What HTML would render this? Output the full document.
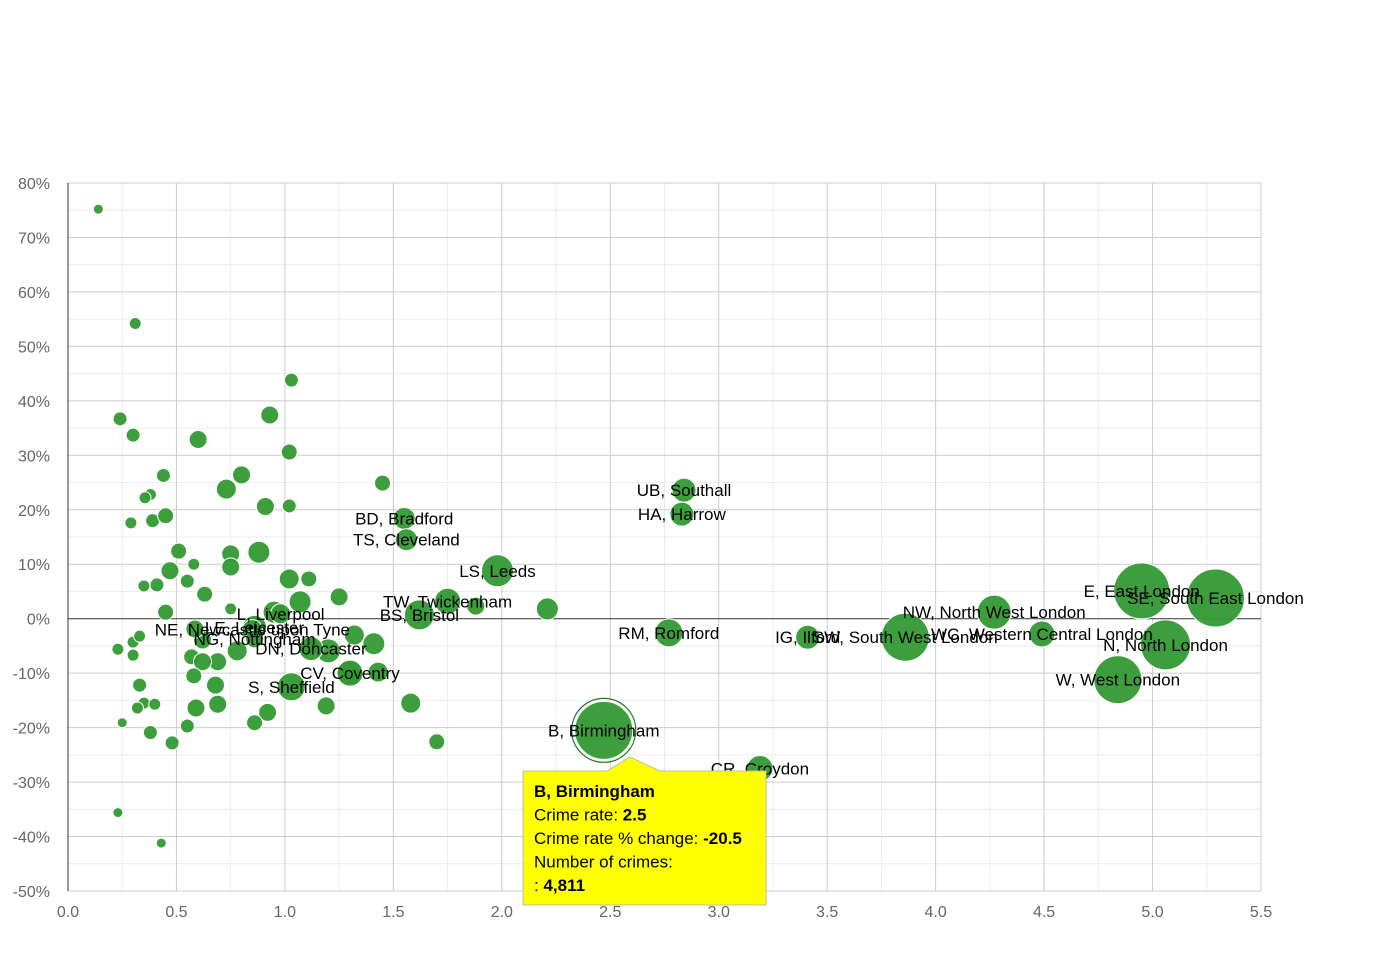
<!DOCTYPE html>
<html><head><meta charset="utf-8">
<style>
html,body{margin:0;padding:0;background:#fff;}
svg{display:block;font-family:"Liberation Sans",Arial,sans-serif;}
</style></head>
<body>
<svg id="chart" width="1390" height="980" viewBox="0 0 1390 980" xmlns="http://www.w3.org/2000/svg">
<g id="grid"></g>
<g id="axes"></g>
<g id="bubbles"></g>
<g id="labels"></g>
<g id="tooltip"></g>
</svg>
<script>
// ---- data ----
const xTicks = [0,0.5,1,1.5,2,2.5,3,3.5,4,4.5,5,5.5];
const xTickLabels = ["0.0","0.5","1.0","1.5","2.0","2.5","3.0","3.5","4.0","4.5","5.0","5.5"];
const yTicks = [80,70,60,50,40,30,20,10,0,-10,-20,-30,-40,-50];
const yTickLabels = ["80%","70%","60%","50%","40%","30%","20%","10%","0%","-10%","-20%","-30%","-40%","-50%"];
// unlabeled areas: crime rate, % change, number of crimes
const rates = [0.14,0.31,0.24,0.30,1.03,0.93,0.60,1.02,0.44,0.38,0.355,0.73,0.80,1.45,0.91,1.02,0.29,0.39,0.45,0.51,0.58,0.75,0.88,0.75,0.47,0.55,0.35,0.41,1.02,1.11,0.63,1.25,0.45,0.75,1.07,0.95,0.23,0.30,0.33,0.30,0.57,0.78,0.69,0.62,0.62,0.585,1.11,1.20,1.32,1.41,1.30,1.43,0.58,0.68,0.33,0.35,0.32,0.40,0.59,0.69,0.92,1.19,1.58,0.55,0.86,0.25,0.38,0.48,1.70,0.23,0.43,2.21,1.88];
const changes = [75.2,54.2,36.7,33.7,43.8,37.4,32.9,30.6,26.3,22.8,22.2,23.8,26.4,24.9,20.6,20.7,17.6,18.0,18.9,12.4,10.0,11.9,12.2,9.5,8.8,6.9,6.0,6.2,7.3,7.3,4.5,4.0,1.2,1.8,3.1,1.2,-5.6,-4.3,-3.2,-6.7,-7.0,-5.9,-7.9,-7.9,-3.9,-1.9,-5.0,-5.9,-3.0,-4.6,-10.0,-9.8,-10.5,-12.2,-12.2,-15.5,-16.4,-15.7,-16.4,-15.7,-17.2,-16.0,-15.5,-19.7,-19.1,-19.1,-20.9,-22.8,-22.6,-35.6,-41.2,1.8,2.3];
const crimes = [143,206,280,280,280,464,464,366,280,206,206,572,464,366,464,280,206,280,366,366,206,464,693,464,464,280,206,280,572,366,366,464,366,206,693,693,206,206,206,206,366,572,464,464,464,464,572,824,572,693,967,572,366,464,280,206,206,206,464,464,464,464,572,280,366,143,280,280,366,143,143,693,464];
// labeled areas
const names = ["UB, Southall","HA, Harrow","BD, Bradford","TS, Cleveland","LS, Leeds","TW, Twickenham","BS, Bristol","RM, Romford","IG, Ilford","SW, South West London","NW, North West London","WC, Western Central London","E, East London","SE, South East London","N, North London","W, West London","CR, Croydon","L, Liverpool","LE, Leicester","NE, Newcastle upon Tyne","NG, Nottingham","DN, Doncaster","CV, Coventry","S, Sheffield","B, Birmingham"];
const namedRates = [2.84,2.83,1.55,1.56,1.98,1.75,1.62,2.77,3.41,3.86,4.27,4.49,4.95,5.29,5.06,4.84,3.19,0.98,0.86,0.85,0.86,1.12,1.30,1.03,2.47];
const namedChanges = [23.6,19.2,18.4,14.5,8.8,3.2,0.7,-2.6,-3.4,-3.4,1.2,-2.8,5.1,3.8,-4.8,-11.2,-27.5,0.9,-1.6,-2.0,-3.7,-5.5,-10.0,-12.5,-20.5];
const namedCrimes = [824,824,693,693,1465,967,1288,1122,824,3297,1654,967,4487,4811,3577,3297,967,572,824,572,464,824,967,1122,4811];

// ---- scales ----
const X0=68, X1=1261, Y0=891, Y1=183;
const xs = v => X0 + (v-0)/(5.5-0)*(X1-X0);
const ys = v => Y0 - (v+50)/(130)*(Y0-Y1);
const rs = c => 0.418*Math.sqrt(c);
const NS="http://www.w3.org/2000/svg";
function mk(tag, attrs, parent){const e=document.createElementNS(NS,tag);for(const k in attrs)e.setAttribute(k,attrs[k]);parent.appendChild(e);return e;}

const grid=document.getElementById('grid'), axes=document.getElementById('axes');
// minor grid
for(let v=0.25; v<5.5; v+=0.5){const l=mk('line',{x1:xs(v),x2:xs(v),y1:Y1,y2:Y0,stroke:'#ececec','stroke-width':1},grid);

}
for(let v=-45; v<80; v+=10){const l=mk('line',{x1:X0,x2:X1,y1:ys(v),y2:ys(v),stroke:'#ececec','stroke-width':1},grid);

}
xTicks.forEach((v,i)=>{
  const l=mk('line',{x1:xs(v),x2:xs(v),y1:Y1,y2:Y0,stroke:'#cccccc','stroke-width':1},grid);
  
  
  const t=mk('text',{x:xs(v),y:Y0+26,'text-anchor':'middle','font-size':16,fill:'#666'},axes);
  t.textContent=xTickLabels[i];
  
  
});
yTicks.forEach((v,i)=>{
  const l=mk('line',{x1:X0,x2:X1,y1:ys(v),y2:ys(v),stroke:v===0?'#333':'#cccccc','stroke-width':1},grid);
  
  
  const t=mk('text',{x:X0-18,y:ys(v)+6,'text-anchor':'end','font-size':16,fill:'#666'},axes);
  t.textContent=yTickLabels[i];
  
  
});
const ax=mk('line',{x1:X0,x2:X0,y1:Y1,y2:Y0,stroke:'#333','stroke-width':1},axes);



const bub=document.getElementById('bubbles'), lab=document.getElementById('labels');
rates.forEach((v,i)=>{
  const c=mk('circle',{cx:xs(v),cy:ys(changes[i]),r:rs(crimes[i]),fill:'#339933','fill-opacity':0.95,stroke:'#fff','stroke-width':1},bub);
  
  
});
namedRates.forEach((v,i)=>{
  const cx=xs(v), cy=ys(namedChanges[i]), r=rs(namedCrimes[i]);
  const c=mk('circle',{cx:cx,cy:cy,r:r,fill:'#339933','fill-opacity':0.95,stroke:'#fff','stroke-width':1},bub);
  
  
  if(names[i]==="B, Birmingham"){
    const ring=mk('circle',{cx:cx,cy:cy,r:r+3,fill:'none',stroke:'#1f7a1f','stroke-width':1.2},bub);
    
    
  }
  const t=mk('text',{x:cx,y:cy+6,'text-anchor':'middle','font-size':17,fill:'#000'},lab);
  t.textContent=names[i];
  
  
});

// tooltip
const tip=document.getElementById('tooltip');
const tp=mk('path',{d:'M523,771 L607,771 L630,757 L660,771 L766,771 L766,905 L523,905 Z',fill:'#ffff00',stroke:'#bbbbbb','stroke-width':1},tip);


const lines=[["B, Birmingham",""],["Crime rate: ","2.5"],["Crime rate % change: ","-20.5"],["Number of crimes:",""],[": ","4,811"]];
lines.forEach((ln,i)=>{
  const t=mk('text',{x:534,y:797+i*23.5,'font-size':17,fill:'#000'},tip);
  
  
  if(i===0){t.setAttribute('font-weight','bold');t.textContent=ln[0];}
  else{const a=mk('tspan',{},t);a.textContent=ln[0];const b=mk('tspan',{'font-weight':'bold'},t);b.textContent=ln[1];}
});
</script>
</body></html>
